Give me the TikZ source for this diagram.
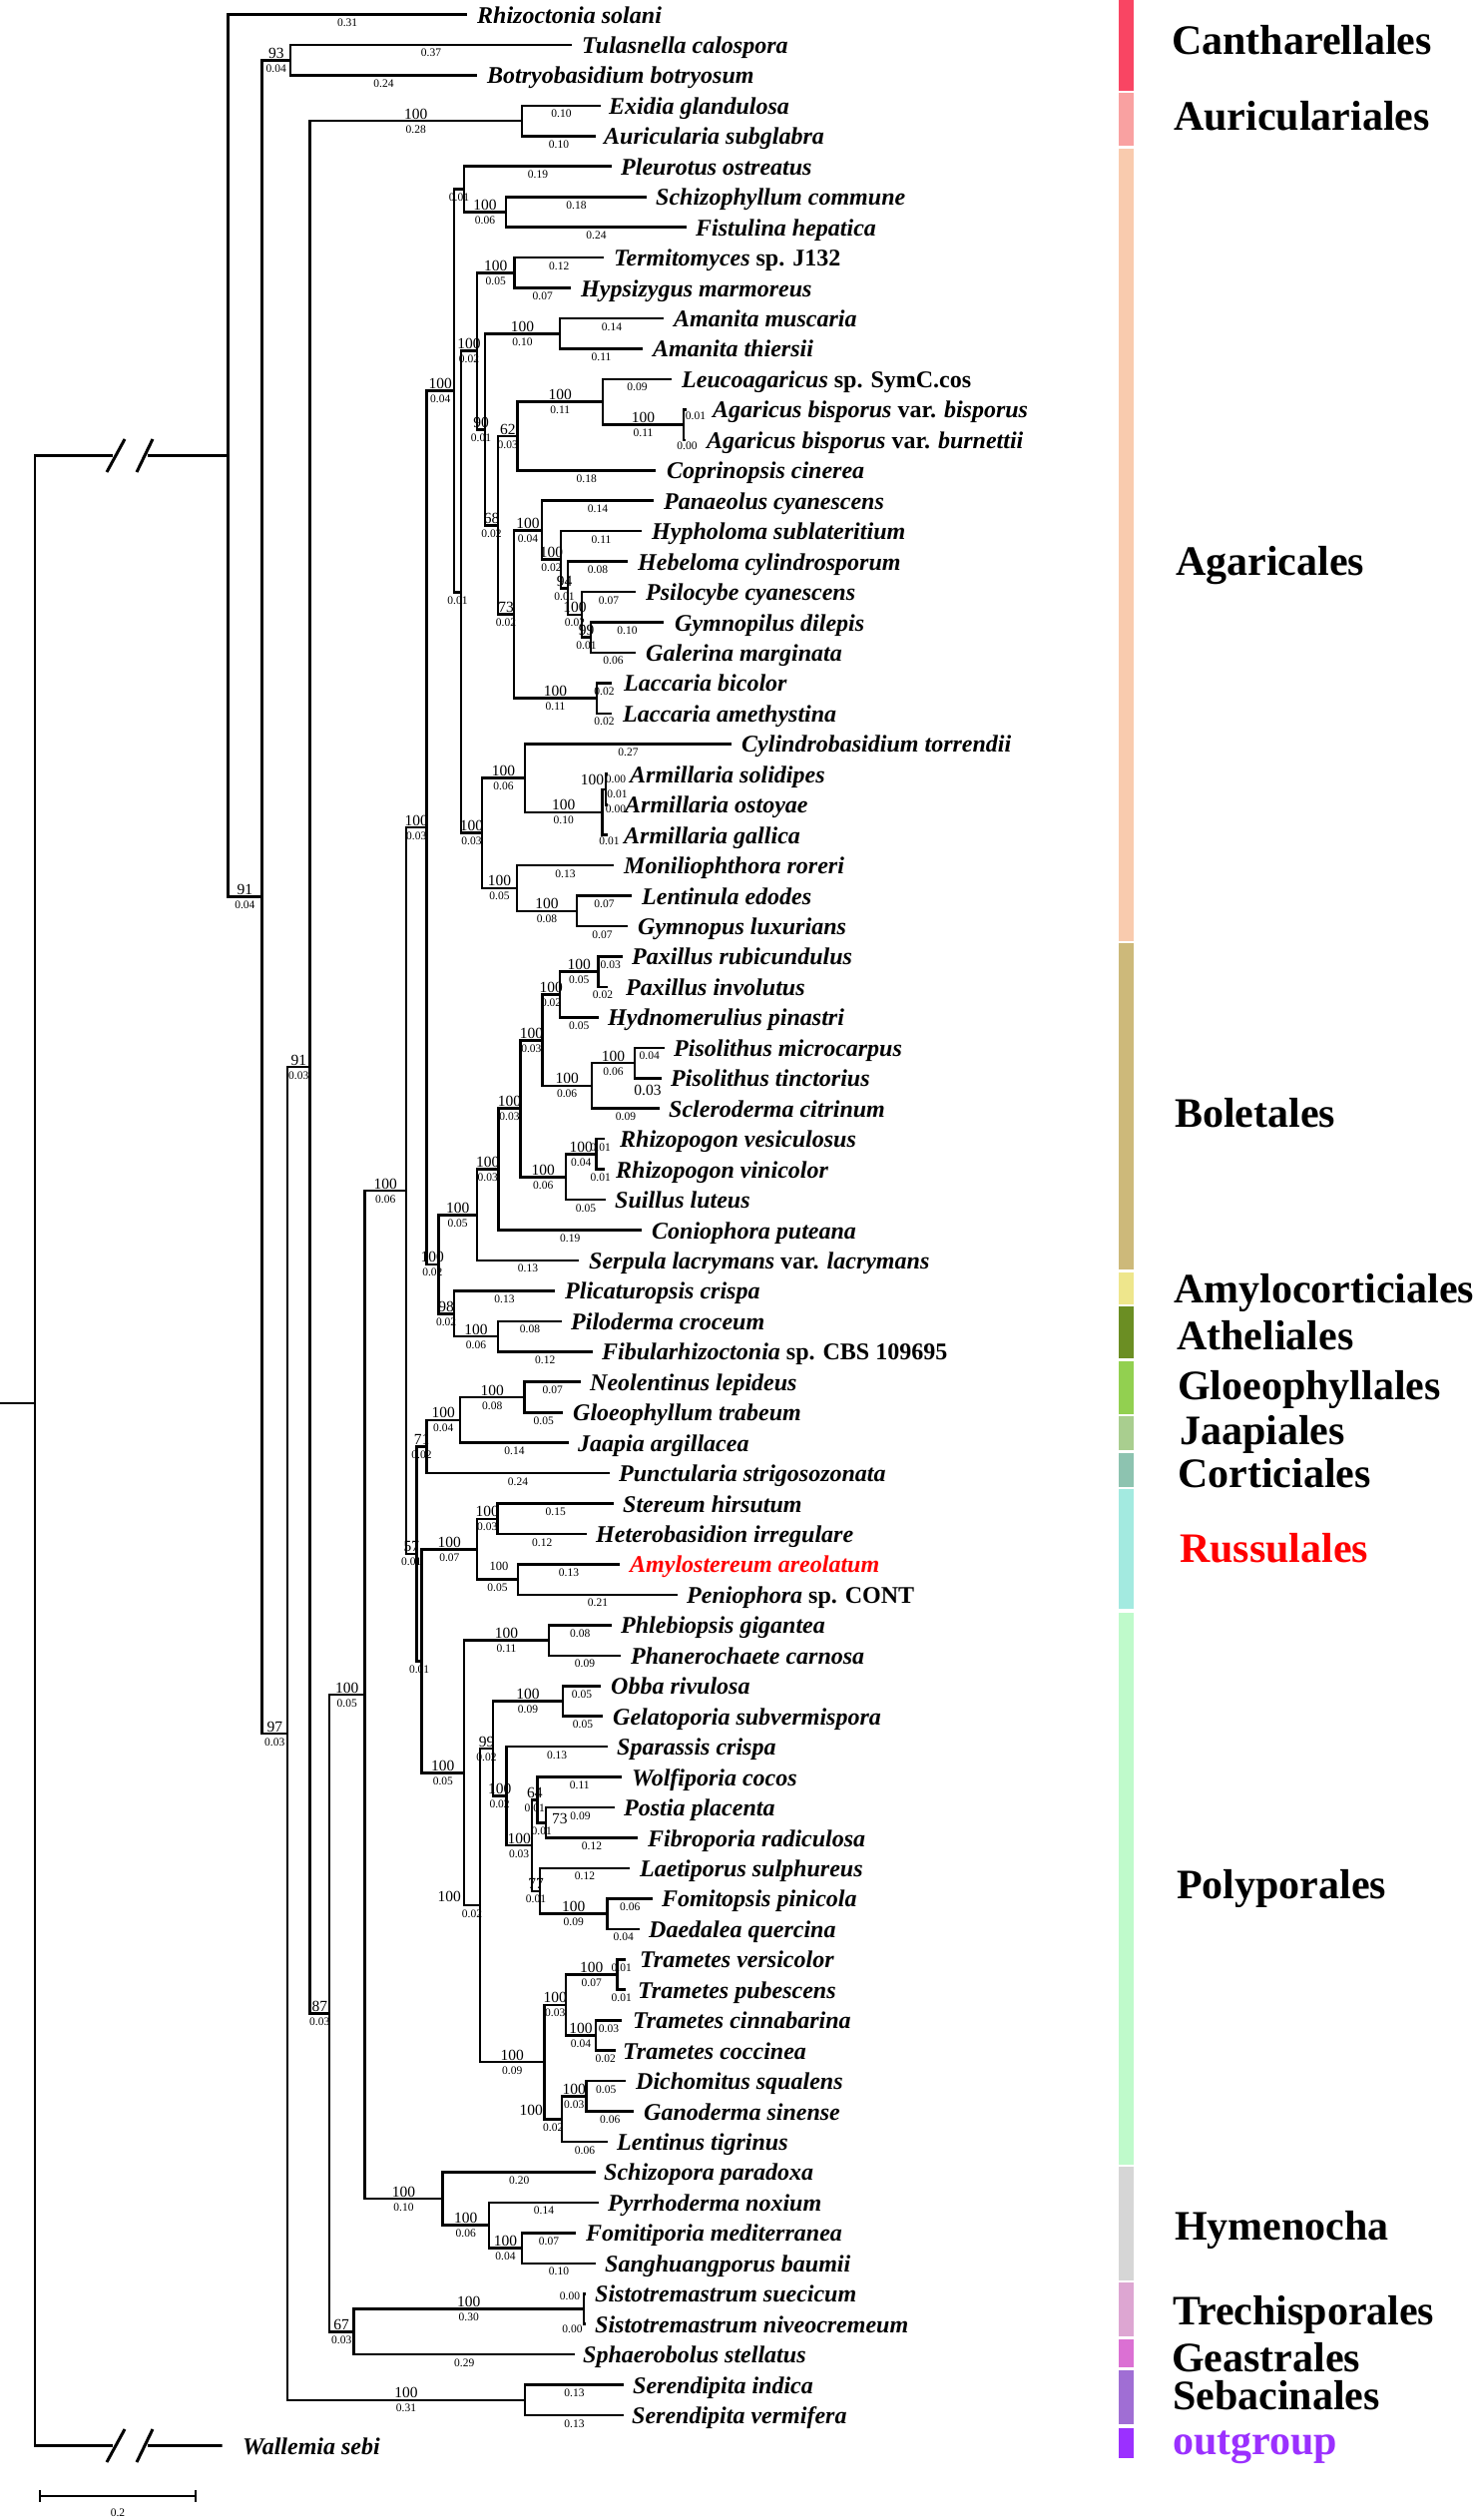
\documentclass[tikz,border=0pt]{standalone}
\usepackage{fontspec}
\setmainfont{Liberation Serif}
\definecolor{cCan}{HTML}{F94563}
\definecolor{cAur}{HTML}{F9A1A1}
\definecolor{cAga}{HTML}{F9CBAE}
\definecolor{cBol}{HTML}{CDB97A}
\definecolor{cAmy}{HTML}{EEE68C}
\definecolor{cAth}{HTML}{6B8E23}
\definecolor{cGlo}{HTML}{92D050}
\definecolor{cJaa}{HTML}{A9CE8F}
\definecolor{cCor}{HTML}{8DC3B0}
\definecolor{cRus}{HTML}{A3EAE0}
\definecolor{cPol}{HTML}{BFFACB}
\definecolor{cHym}{HTML}{D6D6D6}
\definecolor{cTre}{HTML}{DDA6D2}
\definecolor{cGea}{HTML}{DB70D3}
\definecolor{cSeb}{HTML}{A06ED4}
\definecolor{cOut}{HTML}{9B30FF}
\newcommand\uprm[1]{{\upshape #1}}
\tikzset{
  br/.style={line width=2.6pt},
  suplab/.style={font=\fontsize{15.5}{15.5}\selectfont, anchor=base, inner sep=0pt, yshift=2pt},
  lenlab/.style={font=\fontsize{11.5}{11.5}\selectfont, anchor=base, inner sep=0pt, yshift=-12pt},
  supat/.style={font=\fontsize{15.5}{15.5}\selectfont, anchor=base, inner sep=0pt},
  lenat/.style={font=\fontsize{11.5}{11.5}\selectfont, anchor=base, inner sep=0pt},
  taxon/.style={font=\fontsize{24}{24}\selectfont\bfseries\itshape, anchor=base west, inner sep=0pt, yshift=-8.5pt},
  order/.style={font=\fontsize{42}{42}\selectfont\bfseries, anchor=base west, inner sep=0pt, yshift=-14pt},
  slash/.style={line width=3pt},
}
\newcommand\Bra[4]{\draw[br] (#1) |- (#2) node[pos=0.75,suplab]{#3} node[pos=0.75,lenlab]{#4};}
\newcommand\Tip[4]{\pgfmathsetmacro\tipy{14.5+(#1-1)*30.45}\coordinate (t#1) at (#2,\tipy);\node[taxon] (l#1) at (#3,\tipy) {#4};}
\begin{document}
\begin{tikzpicture}[x=1pt,y=-1pt]
\useasboundingbox (0,0) rectangle (1477,2525);
\fill[white] (0,0) rectangle (1477,2525);
% ---------- tips ----------
\Tip{1}{468}{478}{Rhizoctonia solani}
\Tip{2}{573}{583}{Tulasnella calospora}
\Tip{3}{478}{488}{Botryobasidium botryosum}
\Tip{4}{602}{610}{Exidia glandulosa}
\Tip{5}{597}{605}{Auricularia subglabra}
\Tip{6}{613}{622}{Pleurotus ostreatus}
\Tip{7}{648}{657}{Schizophyllum commune}
\Tip{8}{688}{697}{Fistulina hepatica}
\Tip{9}{605}{615}{Termitomyces \uprm{sp. J132}}
\Tip{10}{572}{582}{Hypsizygus marmoreus}
\Tip{11}{665}{675}{Amanita muscaria}
\Tip{12}{644}{654}{Amanita thiersii}
\Tip{13}{673}{683}{Leucoagaricus \uprm{sp. SymC.cos}}
\Tip{14}{688}{714}{Agaricus bisporus \uprm{var.} bisporus}
\Tip{15}{686.5}{708}{Agaricus bisporus \uprm{var.} burnettii}
\Tip{16}{657}{668}{Coprinopsis cinerea}
\Tip{17}{655}{665}{Panaeolus cyanescens}
\Tip{18}{643}{653}{Hypholoma sublateritium}
\Tip{19}{629}{639}{Hebeloma cylindrosporum}
\Tip{20}{637}{647}{Psilocybe cyanescens}
\Tip{21}{665}{676}{Gymnopilus dilepis}
\Tip{22}{637}{647}{Galerina marginata}
\Tip{23}{613}{625}{Laccaria bicolor}
\Tip{24}{613}{624}{Laccaria amethystina}
\Tip{25}{733}{743}{Cylindrobasidium torrendii}
\Tip{26}{609}{631}{Armillaria solidipes}
\Tip{27}{609}{626}{Armillaria ostoyae}
\Tip{28}{609}{625}{Armillaria gallica}
\Tip{29}{615}{625}{Moniliophthora roreri}
\Tip{30}{633}{643}{Lentinula edodes}
\Tip{31}{629}{639}{Gymnopus luxurians}
\Tip{32}{624}{633}{Paxillus rubicundulus}
\Tip{33}{608.5}{627}{Paxillus involutus}
\Tip{34}{599.5}{609}{Hydnomerulius pinastri}
\Tip{35}{665.5}{675}{Pisolithus microcarpus}
\Tip{36}{662.5}{672}{Pisolithus tinctorius}
\Tip{37}{661}{670}{Scleroderma citrinum}
\Tip{38}{606}{621}{Rhizopogon vesiculosus}
\Tip{39}{606}{617}{Rhizopogon vinicolor}
\Tip{40}{607}{616}{Suillus luteus}
\Tip{41}{643}{653}{Coniophora puteana}
\Tip{42}{580}{590}{Serpula lacrymans \uprm{var.} lacrymans}
\Tip{43}{556}{566}{Plicaturopsis crispa}
\Tip{44}{563}{572}{Piloderma croceum}
\Tip{45}{593.5}{603}{Fibularhizoctonia \uprm{sp. CBS 109695}}
\Tip{46}{582}{591}{Neolentinus lepideus}
\Tip{47}{564}{574}{Gloeophyllum trabeum}
\Tip{48}{570}{579}{Jaapia argillacea}
\Tip{49}{610.5}{620}{Punctularia strigosozonata}
\Tip{50}{615}{624}{Stereum hirsutum}
\Tip{51}{588}{597}{Heterobasidion irregulare}
\Tip{52}{621}{631}{\color{red}Amylostereum areolatum}
\Tip{53}{679}{688}{Peniophora \uprm{sp. CONT}}
\Tip{54}{612.5}{622}{Phlebiopsis gigantea}
\Tip{55}{622}{632}{Phanerochaete carnosa}
\Tip{56}{602}{612}{Obba rivulosa}
\Tip{57}{604}{614}{Gelatoporia subvermispora}
\Tip{58}{609}{618}{Sparassis crispa}
\Tip{59}{623}{633}{Wolfiporia cocos}
\Tip{60}{616}{625}{Postia placenta}
\Tip{61}{639}{649}{Fibroporia radiculosa}
\Tip{62}{631}{641}{Laetiporus sulphureus}
\Tip{63}{654}{663}{Fomitopsis pinicola}
\Tip{64}{641}{650}{Daedalea quercina}
\Tip{65}{627}{641}{Trametes versicolor}
\Tip{66}{627}{639}{Trametes pubescens}
\Tip{67}{623}{634}{Trametes cinnabarina}
\Tip{68}{616.5}{624}{Trametes coccinea}
\Tip{69}{627}{637}{Dichomitus squalens}
\Tip{70}{635}{645}{Ganoderma sinense}
\Tip{71}{609}{618}{Lentinus tigrinus}
\Tip{72}{597}{605}{Schizopora paradoxa}
\Tip{73}{600}{609}{Pyrrhoderma noxium}
\Tip{74}{577}{587}{Fomitiporia mediterranea}
\Tip{75}{597}{606}{Sanghuangporus baumii}
\Tip{76}{587}{596}{Sistotremastrum suecicum}
\Tip{77}{587}{596}{Sistotremastrum niveocremeum}
\Tip{78}{576}{584}{Sphaerobolus stellatus}
\Tip{79}{625}{634}{Serendipita indica}
\Tip{80}{625}{633}{Serendipita vermifera}
\Tip{81}{222.5}{243}{Wallemia sebi}
% ---------- internal nodes ----------
\coordinate (root) at (35,1406);
\coordinate (rootstub) at (0,1406);
\coordinate (nA) at (228.3,456.55);
\coordinate (brkA1) at (113,456.55);
\coordinate (brkA2) at (148,456.55);
\coordinate (brkW1) at (113,2450.5);
\coordinate (brkW2) at (148,2450.5);
\coordinate (nB) at (262.5,898.6);
\coordinate (n93) at (291,60.2);
\coordinate (nAur) at (523,121.1);
\coordinate (n97) at (288,1737);
\coordinate (nC) at (310.5,1069.15);
\coordinate (n87) at (330,2017.2);
\coordinate (nD) at (365.5,1698.05);
\coordinate (nE) at (407,1193.0);
\coordinate (nF) at (427.4,829.1);
\coordinate (nG) at (455,391.4);
\coordinate (nPleu) at (465,189.6);
\coordinate (nSchi) at (507,212.4);
\coordinate (nG2) at (462,593.25);
\coordinate (nI) at (478,351.75);
\coordinate (nTerm) at (515.5,273.3);
\coordinate (nJ) at (486,430.2);
\coordinate (nAman) at (561,334.2);
\coordinate (nK) at (499,526.2);
\coordinate (nL) at (518.5,437.0);
\coordinate (nLeuc) at (604,402.75);
\coordinate (nAgar) at (685,425.6);
\coordinate (nN) at (515,615.4);
\coordinate (nO) at (543,531.2);
\coordinate (nP) at (562,560.7);
\coordinate (nQ) at (569,589.25);
\coordinate (nR) at (583,615.9);
\coordinate (nS) at (592,638.7);
\coordinate (nLacc) at (598,699.6);
\coordinate (nT) at (483,834.75);
\coordinate (nU) at (526,779.55);
\coordinate (nArmV) at (603.4,813.8);
\coordinate (nArmS) at (607,791);
\coordinate (nW) at (518,889.95);
\coordinate (nLent) at (578,912.8);
\coordinate (nH) at (439.3,1266.8);
\coordinate (nX) at (478,1217.3);
\coordinate (nY) at (499.4,1171.6);
\coordinate (nZ) at (521.5,1110.7);
\coordinate (nAA) at (543.3,1042.2);
\coordinate (nAC) at (561,996.5);
\coordinate (nPax) at (599.5,973.7);
\coordinate (nAD) at (593,1087.85);
\coordinate (nPiso) at (636,1065.0);
\coordinate (nAB) at (567,1179.2);
\coordinate (nRhiz) at (597.5,1156.4);
\coordinate (nAF) at (455,1316.25);
\coordinate (nAG) at (499,1339.1);
\coordinate (n57) at (417.6,1556.9);
\coordinate (nAL) at (427.4,1449.45);
\coordinate (nAM) at (461,1422.8);
\coordinate (nAN) at (525.5,1400);
\coordinate (nAH) at (422.7,1664.3);
\coordinate (nAI) at (478,1552.2);
\coordinate (nAJ) at (498.6,1521.8);
\coordinate (nAK) at (519,1582.7);
\coordinate (nAO) at (465,1776.35);
\coordinate (nAP) at (550,1643.6);
\coordinate (nAQ) at (481,1909.1);
\coordinate (nAR) at (494,1752.05);
\coordinate (nAS) at (564,1704.5);
\coordinate (nAT) at (507.3,1799.6);
\coordinate (nAU) at (533,1849.1);
\coordinate (n64) at (538.5,1803.45);
\coordinate (nAV) at (547,1826.3);
\coordinate (n77) at (541,1894.8);
\coordinate (nAW) at (608.5,1917.6);
\coordinate (nAX) at (545.5,2066.1);
\coordinate (nAY) at (567,2008.95);
\coordinate (nAZ) at (618.4,1978.5);
\coordinate (nBA) at (597,2039.4);
\coordinate (nBB) at (563,2123.2);
\coordinate (nBC) at (587.6,2100.3);
\coordinate (nBD) at (443.5,2203.1);
\coordinate (nBE) at (490,2229.75);
\coordinate (nBF) at (523,2252.6);
\coordinate (n67) at (354.4,2336.3);
\coordinate (nSist) at (585,2313.5);
\coordinate (nSer) at (526,2404.8);
% ---------- root and breaks ----------
\draw[br] (rootstub) -- (root);
\draw[br] (root) |- (brkA1);
\draw[br] (brkA2) -- (nA);
\draw[br] (root) |- (brkW1);
\draw[br] (brkW2) -- (t81);
\draw[slash] (107,473) -- (125,440);
\draw[slash] (137,473) -- (153,440);
\draw[slash] (107,2467) -- (125,2434);
\draw[slash] (137,2467) -- (153,2434);
% ---------- branches ----------
\Bra{nA}{t1}{}{0.31}
\Bra{nA}{nB}{91}{0.04}
\Bra{nB}{n93}{93}{0.04}
\Bra{n93}{t2}{}{0.37}
\Bra{n93}{t3}{}{0.24}
\Bra{nB}{n97}{97}{0.03}
\Bra{n97}{nC}{91}{0.03}
\Bra{n97}{nSer}{100}{0.31}
\Bra{nSer}{t79}{}{0.13}
\Bra{nSer}{t80}{}{0.13}
\Bra{nC}{nAur}{100}{0.28}
\Bra{nAur}{t4}{}{0.10}
\Bra{nAur}{t5}{}{0.10}
\Bra{nC}{n87}{87}{0.03}
\Bra{n87}{nD}{100}{0.05}
\Bra{n87}{n67}{67}{0.03}
\Bra{n67}{nSist}{100}{0.30}
\Bra{nSist}{t76}{}{}
\Bra{nSist}{t77}{}{}
\Bra{n67}{t78}{}{0.29}
\Bra{nD}{nE}{100}{0.06}
\Bra{nD}{nBD}{100}{0.10}
\Bra{nBD}{t72}{}{0.20}
\Bra{nBD}{nBE}{100}{0.06}
\Bra{nBE}{t73}{}{0.14}
\Bra{nBE}{nBF}{100}{0.04}
\Bra{nBF}{t74}{}{0.07}
\Bra{nBF}{t75}{}{0.10}
\Bra{nE}{nF}{100}{0.03}
\Bra{nE}{n57}{57}{0.01}
\Bra{nF}{nG}{100}{0.04}
\Bra{nF}{nH}{100}{0.02}
\Bra{nG}{nPleu}{}{0.01}
\Bra{nG}{nG2}{}{0.01}
\Bra{nPleu}{t6}{}{0.19}
\Bra{nPleu}{nSchi}{100}{0.06}
\Bra{nSchi}{t7}{}{0.18}
\Bra{nSchi}{t8}{}{0.24}
\Bra{nG2}{nI}{100}{0.02}
\Bra{nG2}{nT}{100}{0.03}
\Bra{nI}{nTerm}{100}{0.05}
\Bra{nTerm}{t9}{}{0.12}
\Bra{nTerm}{t10}{}{0.07}
\Bra{nI}{nJ}{90}{0.01}
\Bra{nJ}{nAman}{100}{0.10}
\Bra{nAman}{t11}{}{0.14}
\Bra{nAman}{t12}{}{0.11}
\Bra{nJ}{nK}{68}{0.02}
\Bra{nK}{nL}{62}{0.03}
\Bra{nL}{nLeuc}{100}{0.11}
\Bra{nLeuc}{t13}{}{0.09}
\Bra{nLeuc}{nAgar}{100}{0.11}
\Bra{nAgar}{t14}{}{}
\Bra{nAgar}{t15}{}{}
\Bra{nL}{t16}{}{0.18}
\Bra{nK}{nN}{73}{0.02}
\Bra{nN}{nO}{100}{0.04}
\Bra{nO}{t17}{}{0.14}
\Bra{nO}{nP}{100}{0.02}
\Bra{nP}{t18}{}{0.11}
\Bra{nP}{nQ}{94}{0.01}
\Bra{nQ}{t19}{}{0.08}
\Bra{nQ}{nR}{100}{0.02}
\Bra{nR}{t20}{}{0.07}
\Bra{nR}{nS}{99}{0.01}
\Bra{nS}{t21}{}{0.10}
\Bra{nS}{t22}{}{0.06}
\Bra{nN}{nLacc}{100}{0.11}
\Bra{nLacc}{t23}{}{0.02}
\Bra{nLacc}{t24}{}{0.02}
\Bra{nT}{nU}{100}{0.06}
\Bra{nU}{t25}{}{0.27}
\Bra{nU}{nArmV}{100}{0.10}
\Bra{nArmV}{nArmS}{}{}
\Bra{nArmS}{t26}{}{}
\Bra{nArmS}{t27}{}{}
\Bra{nArmV}{t28}{}{}
\Bra{nT}{nW}{100}{0.05}
\Bra{nW}{t29}{}{0.13}
\Bra{nW}{nLent}{100}{0.08}
\Bra{nLent}{t30}{}{0.07}
\Bra{nLent}{t31}{}{0.07}
\Bra{nH}{nX}{100}{0.05}
\Bra{nX}{nY}{100}{0.03}
\Bra{nX}{t42}{}{0.13}
\Bra{nY}{nZ}{100}{0.03}
\Bra{nY}{t41}{}{0.19}
\Bra{nZ}{nAA}{100}{0.03}
\Bra{nZ}{nAB}{100}{0.06}
\Bra{nAA}{nAC}{100}{0.02}
\Bra{nAA}{nAD}{100}{0.06}
\Bra{nAC}{nPax}{100}{0.05}
\Bra{nAC}{t34}{}{0.05}
\Bra{nPax}{t32}{}{0.03}
\Bra{nPax}{t33}{}{0.02}
\Bra{nAD}{nPiso}{100}{0.06}
\Bra{nAD}{t37}{}{0.09}
\Bra{nPiso}{t35}{}{0.04}
\Bra{nPiso}{t36}{}{}
\Bra{nAB}{nRhiz}{100}{0.04}
\Bra{nAB}{t40}{}{0.05}
\Bra{nRhiz}{t38}{}{0.01}
\Bra{nRhiz}{t39}{}{0.01}
\Bra{nH}{nAF}{98}{0.02}
\Bra{nAF}{t43}{}{0.13}
\Bra{nAF}{nAG}{100}{0.06}
\Bra{nAG}{t44}{}{0.08}
\Bra{nAG}{t45}{}{0.12}
\Bra{n57}{nAL}{71}{0.02}
\Bra{n57}{nAH}{}{0.01}
\Bra{nAL}{nAM}{100}{0.04}
\Bra{nAL}{t49}{}{0.24}
\Bra{nAM}{nAN}{100}{0.08}
\Bra{nAM}{t48}{}{0.14}
\Bra{nAN}{t46}{}{0.07}
\Bra{nAN}{t47}{}{0.05}
\Bra{nAH}{nAI}{100}{0.07}
\Bra{nAH}{nAO}{100}{0.05}
\Bra{nAI}{nAJ}{100}{0.03}
\Bra{nAI}{nAK}{}{0.05}
\Bra{nAJ}{t50}{}{0.15}
\Bra{nAJ}{t51}{}{0.12}
\Bra{nAK}{t52}{}{0.13}
\Bra{nAK}{t53}{}{0.21}
\Bra{nAO}{nAP}{100}{0.11}
\Bra{nAO}{nAQ}{}{0.02}
\Bra{nAP}{t54}{}{0.08}
\Bra{nAP}{t55}{}{0.09}
\Bra{nAQ}{nAR}{99}{0.02}
\Bra{nAQ}{nAX}{100}{0.09}
\Bra{nAR}{nAS}{100}{0.09}
\Bra{nAR}{nAT}{100}{0.02}
\Bra{nAS}{t56}{}{0.05}
\Bra{nAS}{t57}{}{0.05}
\Bra{nAT}{t58}{}{0.13}
\Bra{nAT}{nAU}{100}{0.03}
\Bra{nAU}{n64}{64}{0.01}
\Bra{nAU}{n77}{77}{0.01}
\Bra{n64}{t59}{}{0.11}
\Bra{n64}{nAV}{}{0.01}
\Bra{nAV}{t60}{}{0.09}
\Bra{nAV}{t61}{}{0.12}
\Bra{n77}{t62}{}{0.12}
\Bra{n77}{nAW}{100}{0.09}
\Bra{nAW}{t63}{}{0.06}
\Bra{nAW}{t64}{}{0.04}
\Bra{nAX}{nAY}{100}{0.03}
\Bra{nAX}{nBB}{}{0.02}
\Bra{nAY}{nAZ}{100}{0.07}
\Bra{nAY}{nBA}{100}{0.04}
\Bra{nAZ}{t65}{}{0.01}
\Bra{nAZ}{t66}{}{0.01}
\Bra{nBA}{t67}{}{0.03}
\Bra{nBA}{t68}{}{0.02}
\Bra{nBB}{nBC}{100}{0.03}
\Bra{nBB}{t71}{}{0.06}
\Bra{nBC}{t69}{}{0.05}
\Bra{nBC}{t70}{}{0.06}
% ---------- custom-placed labels ----------
\node[lenat] (x14) at (697,420) {0.01};
\node[lenat] (x15) at (688.5,450) {0.00};
\node[supat] (xArm) at (593.5,786) {100};
\node[lenat] (xA26) at (617,784) {0.00};
\node[lenat] (xAS) at (618.5,799) {0.01};
\node[lenat] (xA27) at (617,814) {0.00};
\node[lenat] (xA28) at (610.5,846) {0.01};
\node[supat] (x36) at (649,1097) {0.03};
\node[lenat] (x76) at (571,2304) {0.00};
\node[lenat] (x77) at (573.5,2337) {0.00};
\node[lenat,font=\fontsize{12.5}{12.5}\selectfont] (xAK) at (500,1573) {100};
\node[supat,anchor=base east] (xAQ) at (462,1905) {100};
\node[supat,anchor=base east] (xBB) at (544,2119) {100};
\node[supat,anchor=base west] (xAV) at (553,1827) {73};
% ---------- scale bar ----------
\coordinate (sbL) at (40,2501);
\coordinate (sbR) at (196,2501);
\draw[line width=2pt] (sbL) -- (sbR);
\draw[line width=2pt] (40,2495) -- (40,2507);
\draw[line width=2pt] (196,2495) -- (196,2507);
\node[lenat] (sblab) at (118,2521) {0.2};
% ---------- order bars ----------
\fill[cCan] (1121,0) rectangle (1136,91);
\fill[cAur] (1121,93) rectangle (1136,146);
\fill[cAga] (1121,149) rectangle (1136,943);
\fill[cBol] (1121,945) rectangle (1136,1272);
\fill[cAmy] (1121,1275) rectangle (1136,1307);
\fill[cAth] (1121,1309) rectangle (1136,1361);
\fill[cGlo] (1121,1364) rectangle (1136,1417);
\fill[cJaa] (1121,1419) rectangle (1136,1453);
\fill[cCor] (1121,1456) rectangle (1136,1490);
\fill[cRus] (1121,1492) rectangle (1136,1612);
\fill[cPol] (1121,1616) rectangle (1136,2169);
\fill[cHym] (1121,2171) rectangle (1136,2285);
\fill[cTre] (1121,2287) rectangle (1136,2341);
\fill[cGea] (1121,2344) rectangle (1136,2372);
\fill[cSeb] (1121,2375) rectangle (1136,2429);
\fill[cOut] (1121,2433) rectangle (1136,2463);
% ---------- order labels ----------
\node[order] (oCan) at (1174,40) {Cantharellales};
\node[order] (oAur) at (1176,116) {Auriculariales};
\node[order] (oAga) at (1178,562) {Agaricales};
\node[order] (oBol) at (1177,1115) {Boletales};
\node[order] (oAmy) at (1176,1291) {Amylocorticiales};
\node[order] (oAth) at (1179,1338) {Atheliales};
\node[order] (oGlo) at (1180,1388) {Gloeophyllales};
\node[order] (oJaa) at (1182,1433) {Jaapiales};
\node[order] (oCor) at (1180,1476) {Corticiales};
\node[order,text=red] (oRus) at (1182,1551) {Russulales};
\node[order] (oPol) at (1179,1888) {Polyporales};
\node[order] (oHym) at (1177,2230) {Hymenocha};
\node[order] (oTre) at (1175,2315) {Trechisporales};
\node[order] (oGea) at (1174,2362) {Geastrales};
\node[order] (oSeb) at (1175,2400) {Sebacinales};
\node[order,text=cOut] (oOut) at (1175,2445) {outgroup};
\end{tikzpicture}
\end{document}
